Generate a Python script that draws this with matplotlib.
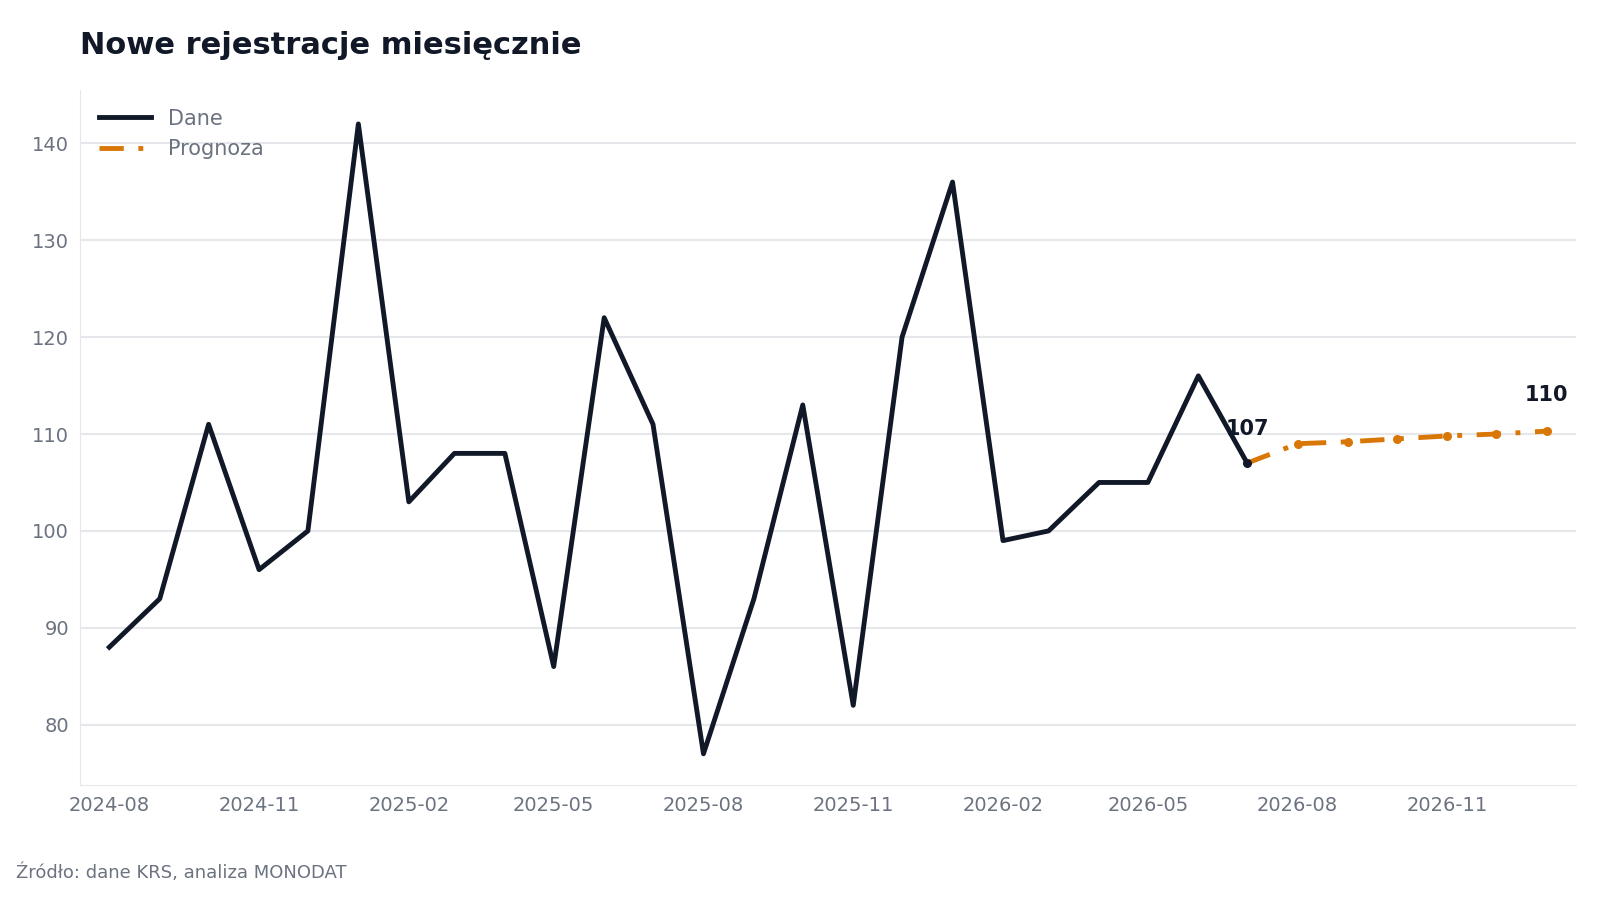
import matplotlib.pyplot as plt
import matplotlib.dates as mdates
import pandas as pd

# monthly data
months = pd.date_range("2024-08-01", "2026-07-01", freq="MS")
values = [88, 93, 111, 96, 100, 142, 103, 108, 108, 86, 122, 111,
          77, 93, 113, 82, 120, 136, 99, 100, 105, 105, 116, 107]

fc_months = pd.date_range("2026-07-01", "2027-01-01", freq="MS")
fc_values = [107, 109, 109.2, 109.5, 109.8, 110.0, 110.3]

dark = "#111827"
orange = "#d97706"
grey = "#6b7280"

fig, ax = plt.subplots(figsize=(16, 9), dpi=100)
fig.subplots_adjust(left=0.05, right=0.985, top=0.9, bottom=0.128)

ax.plot(months, values, color=dark, lw=3.5, label="Dane")
ax.plot(fc_months, fc_values, color=orange, lw=3.5, ls=(0, (5, 3, 1, 3)),
        label="Prognoza")
ax.scatter(fc_months[1:], fc_values[1:], color=orange, s=30, zorder=3)
ax.scatter([months[-1]], [values[-1]], color=dark, s=30, zorder=4)

ax.annotate(f"{values[-1]:.0f}", (months[-1], values[-1]), xytext=(0, 20),
            textcoords="offset points", ha="center", fontsize=15,
            fontweight="bold", color=dark)
ax.annotate(f"{fc_values[-1]:.0f}", (fc_months[-1], fc_values[-1]), xytext=(0, 22),
            textcoords="offset points", ha="center", fontsize=15,
            fontweight="bold", color=dark)

ax.set_ylim(73.8, 145.5)
ax.set_xlim(pd.Timestamp("2024-07-14"), pd.Timestamp("2027-01-19"))
ax.xaxis.set_major_locator(mdates.MonthLocator(bymonth=[2, 5, 8, 11]))
ax.xaxis.set_major_formatter(mdates.DateFormatter("%Y-%m"))
ax.set_yticks(range(80, 141, 10))

ax.grid(axis="y", color="#e5e7eb", lw=1.5)
ax.set_axisbelow(True)
for s in ["top", "right"]:
    ax.spines[s].set_visible(False)
for s in ["left", "bottom"]:
    ax.spines[s].set_color("#e5e7eb")
ax.tick_params(colors=grey, labelsize=14, length=0, pad=8)

ax.legend(loc="upper left", frameon=False, fontsize=15, labelcolor=grey,
          handlelength=2.5)

fig.text(0.05, 0.94, "Nowe rejestracje miesięcznie", fontsize=22,
         fontweight="bold", color=dark)
fig.text(0.01, 0.025, "Źródło: dane KRS, analiza MONODAT", fontsize=13, color=grey)

fig.savefig("out.png")
